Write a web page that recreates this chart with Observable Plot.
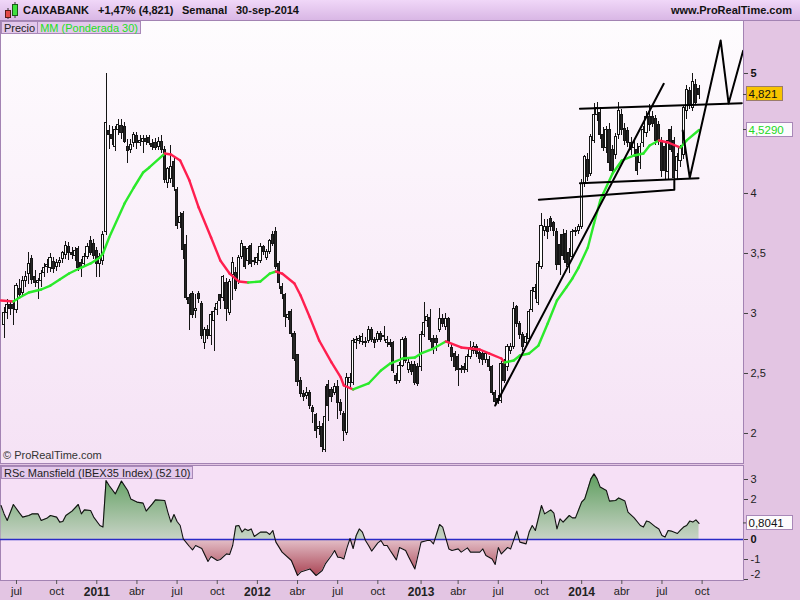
<!DOCTYPE html>
<html>
<head>
<meta charset="utf-8">
<script src="https://cdn.jsdelivr.net/npm/d3@7"></script>
<script src="https://cdn.jsdelivr.net/npm/@observablehq/plot@0.6"></script>
<style>
  html, body { margin:0; padding:0; }
  body { width:800px; height:600px; position:relative; overflow:hidden; background:#e3c5e3;
         font-family:"Liberation Sans", Arial, sans-serif; }
  * { box-sizing:border-box; }
  .abs { position:absolute; }
  #header { left:0; top:0; width:800px; height:21px; background:linear-gradient(#f0d7f8,#d9b7e5);
            border-bottom:1px solid #a383b3; }
  #header span { position:absolute; top:3px; font-size:11px; line-height:14px; font-weight:bold; color:#111; white-space:nowrap; }
  #mainbg { left:0; top:21px; width:744px; height:443px; background:linear-gradient(#fefcfe,#f5e2f5);
            border-left:1px solid #a383b3; border-right:1px solid #a383b3; border-bottom:1px solid #a383b3; }
  #lowbg { left:0; top:465px; width:744px; height:116px; background:#f6e0f6;
           border:1px solid #a383b3; }
  .tag { display:inline-block; height:13px; line-height:12px; font-size:11px; padding:0 2px;
         background:#e3c8eb; border:1px solid #a888b8; color:#222; white-space:nowrap; vertical-align:top; }
  #copy { left:3px; top:449px; font-size:11px; color:#333; }
  #main, #low { left:0; }
  #main { top:21px; }
  #low { top:465px; }
</style>
</head>
<body>
<div id="header" class="abs">
  <svg class="abs" style="left:2px;top:1px" width="18" height="19">
    <line x1="6" y1="7" x2="6" y2="18" stroke="#333"/>
    <rect x="3.5" y="9.5" width="5" height="7" fill="#e34848" stroke="#5a1a1a"/>
    <line x1="13" y1="1" x2="13" y2="17" stroke="#333"/>
    <rect x="10.5" y="3.5" width="5" height="11" fill="#3ee03e" stroke="#1a5a1a"/>
  </svg>
  <span style="left:23px">CAIXABANK</span>
  <span style="left:98px">+1,47% (4,821)</span>
  <span style="left:182px">Semanal</span>
  <span style="left:236px">30-sep-2014</span>
  <span style="right:8px">www.ProRealTime.com</span>
</div>
<div id="mainbg" class="abs"></div>
<div id="lowbg" class="abs"></div>
<div id="main" class="abs"></div>
<div id="low" class="abs"></div>
<div class="abs" style="left:1px;top:21px"><span class="tag">Precio</span><span class="tag" style="color:#22e022;border-left:none">MM (Ponderada 30)</span></div>
<div class="abs" style="left:1px;top:466px"><span class="tag">RSc Mansfield (IBEX35 Index) (52 10)</span></div>
<div id="copy" class="abs">© ProRealTime.com</div>
<script>
// ---------- Weekly OHLC (first bar: week of 2010-06-07) ----------
const firstWeek = "2010-06-07";
const open = [
 2.90,3.00,3.07,3.07,3.03,3.20,3.17,3.27,3.33,3.45,3.30,3.25,3.27,3.34,3.39,3.38,3.43,3.39,3.42,3.45,3.49,3.55,3.50,3.48,3.54,3.42,3.41,3.47,3.60,3.58,3.52,3.41,3.44,3.68,4.52,4.49,4.39,4.53,4.56,4.55,4.39,4.36,4.42,4.48,4.42,4.43,4.45,4.46,
 4.41,4.42,4.39,4.43,4.36,4.09,4.12,4.26,4.03,3.75,3.83,3.57,3.13,3.16,3.02,3.16,3.08,2.75,2.86,2.81,2.94,3.03,3.15,3.13,3.25,3.00,3.32,3.34,3.27,3.47,3.55,3.44,3.56,3.44,3.42,3.44,3.55,3.46,3.51,3.65,3.68,3.41,3.22,3.15,2.96,3.01,2.83,2.65,
 2.44,2.33,2.31,2.34,2.21,2.15,2.04,2.05,1.86,2.40,2.36,2.34,2.39,2.25,2.16,2.00,2.42,2.42,2.75,2.77,2.76,2.76,2.77,2.86,2.78,2.78,2.83,2.80,2.75,2.75,2.75,2.48,2.44,2.56,2.79,2.53,2.57,2.57,2.55,2.55,2.82,2.94,2.96,2.79,2.79,2.86,2.95,2.89,2.95,
 2.71,2.66,2.64,2.54,2.55,2.53,2.64,2.69,2.72,2.67,2.66,2.61,2.61,2.55,2.34,2.29,2.27,2.58,2.55,2.69,2.72,3.05,2.91,2.82,2.75,2.79,3.03,3.18,3.09,3.39,3.69,3.72,3.79,3.75,3.68,3.57,3.65,3.66,3.50,3.47,3.68,3.69,3.72,4.09,4.28,4.16,4.44,4.65,
 4.67,4.49,4.38,4.53,4.36,4.32,4.49,4.65,4.54,4.52,4.42,4.38,4.36,4.25,4.42,4.50,4.64,4.64,4.62,4.57,4.44,4.39,4.18,4.53,4.44,4.19,4.27,4.32,4.69,4.85,4.71,4.90,4.87
];
const high = [
 3.05,3.12,3.10,3.10,3.25,3.28,3.31,3.35,3.51,3.48,3.36,3.29,3.36,3.42,3.45,3.50,3.47,3.45,3.47,3.52,3.60,3.59,3.55,3.55,3.56,3.45,3.50,3.58,3.64,3.62,3.55,3.50,3.68,5.00,4.57,4.56,4.56,4.62,4.62,4.59,4.45,4.45,4.51,4.51,4.48,4.48,4.48,4.48,
 4.45,4.46,4.47,4.48,4.39,4.22,4.40,4.30,4.05,3.84,3.85,3.65,3.16,3.18,3.16,3.18,3.10,2.88,2.90,3.02,3.05,3.10,3.16,3.32,3.29,3.28,3.47,3.38,3.48,3.61,3.56,3.56,3.58,3.47,3.50,3.58,3.57,3.53,3.62,3.68,3.72,3.43,3.25,3.17,3.02,3.03,2.85,2.66,
 2.47,2.36,2.38,2.36,2.23,2.17,2.10,2.08,2.39,2.44,2.38,2.42,2.44,2.28,2.18,2.50,2.50,2.79,2.81,2.82,2.83,2.80,2.89,2.88,2.80,2.85,2.85,2.89,2.81,2.78,2.77,2.50,2.59,2.80,2.81,2.62,2.60,2.60,2.58,2.85,3.09,2.99,3.03,2.82,2.82,3.04,2.99,3.00,2.97,
 2.74,2.68,2.66,2.57,2.58,2.66,2.77,2.76,2.74,2.70,2.68,2.68,2.64,2.57,2.36,2.32,2.60,2.62,2.74,2.75,3.09,3.07,2.93,2.84,2.83,3.03,3.22,3.24,3.43,3.83,3.78,3.78,3.81,3.77,3.71,3.66,3.70,3.69,3.54,3.70,3.72,3.74,4.12,4.32,4.33,4.49,4.75,4.76,
 4.72,4.55,4.56,4.58,4.40,4.50,4.76,4.70,4.58,4.55,4.47,4.45,4.42,4.42,4.56,4.68,4.74,4.68,4.65,4.60,4.47,4.42,4.53,4.56,4.47,4.33,4.40,4.73,4.90,4.88,5.00,4.95,4.90
];
const low = [
 2.79,2.95,2.98,2.90,3.00,3.12,3.14,3.22,3.24,3.24,3.22,3.12,3.22,3.30,3.33,3.34,3.33,3.35,3.38,3.42,3.45,3.44,3.45,3.43,3.35,3.30,3.38,3.45,3.48,3.45,3.30,3.30,3.40,3.65,4.37,4.40,4.35,4.48,4.45,4.42,4.25,4.33,4.38,4.37,4.39,4.33,4.40,4.40,
 4.36,4.36,4.36,4.33,4.08,4.04,4.08,4.02,3.70,3.71,3.45,3.11,2.86,2.96,2.96,3.08,2.78,2.70,2.78,2.73,2.68,2.98,3.03,3.10,2.93,2.98,3.11,3.18,3.24,3.45,3.37,3.40,3.38,3.40,3.40,3.42,3.48,3.44,3.49,3.56,3.37,3.20,3.12,2.88,2.94,2.80,2.60,2.39,
 2.30,2.27,2.28,2.20,2.08,1.96,1.98,1.84,1.84,2.10,2.26,2.32,2.12,2.15,1.93,1.98,2.38,2.40,2.70,2.74,2.73,2.72,2.75,2.76,2.71,2.76,2.76,2.77,2.72,2.72,2.50,2.41,2.42,2.55,2.58,2.50,2.48,2.40,2.39,2.52,2.80,2.88,2.76,2.66,2.68,2.84,2.88,2.86,2.72,
 2.60,2.52,2.39,2.50,2.50,2.51,2.62,2.66,2.63,2.58,2.57,2.58,2.52,2.32,2.23,2.24,2.25,2.42,2.52,2.66,2.70,2.88,2.78,2.68,2.72,2.77,3.01,3.12,3.07,3.37,3.64,3.62,3.68,3.64,3.36,3.32,3.44,3.38,3.33,3.45,3.64,3.66,3.70,4.05,4.10,4.14,4.42,4.60,
 4.45,4.35,4.33,4.18,4.15,4.28,4.45,4.48,4.40,4.38,4.32,4.30,4.15,4.20,4.38,4.47,4.52,4.55,4.40,4.40,4.13,4.12,4.12,4.34,4.10,4.12,4.22,4.28,4.62,4.70,4.68,4.73,4.78
];
const close = [
 3.00,3.07,3.04,3.04,3.23,3.15,3.27,3.30,3.41,3.28,3.25,3.27,3.33,3.38,3.40,3.46,3.37,3.42,3.44,3.50,3.56,3.50,3.49,3.52,3.38,3.38,3.47,3.55,3.50,3.48,3.41,3.47,3.65,4.59,4.49,4.45,4.53,4.57,4.50,4.43,4.35,4.40,4.49,4.42,4.44,4.45,4.43,4.42,
 4.39,4.38,4.43,4.36,4.11,4.20,4.22,4.05,3.73,3.80,3.53,3.13,3.08,2.99,3.04,3.12,2.81,2.86,2.81,2.99,3.01,3.08,3.10,3.30,3.04,3.26,3.42,3.20,3.46,3.58,3.39,3.54,3.41,3.43,3.46,3.55,3.51,3.51,3.60,3.58,3.39,3.25,3.16,2.97,2.99,2.83,2.62,2.43,
 2.33,2.30,2.34,2.23,2.18,2.02,2.05,1.89,2.14,2.23,2.30,2.39,2.25,2.19,2.02,2.46,2.46,2.77,2.78,2.79,2.80,2.75,2.86,2.78,2.75,2.83,2.78,2.81,2.78,2.74,2.52,2.44,2.56,2.78,2.60,2.59,2.51,2.42,2.41,2.82,2.92,2.97,2.78,2.71,2.75,2.95,2.91,2.95,2.76,
 2.64,2.55,2.53,2.53,2.53,2.64,2.71,2.72,2.66,2.62,2.61,2.66,2.55,2.34,2.26,2.27,2.58,2.44,2.72,2.72,3.04,2.91,2.82,2.72,2.80,3.01,3.19,3.21,3.41,3.73,3.72,3.68,3.72,3.69,3.40,3.40,3.48,3.42,3.40,3.68,3.69,3.72,4.08,4.30,4.14,4.47,4.65,4.71,
 4.49,4.38,4.53,4.25,4.19,4.47,4.69,4.53,4.44,4.42,4.36,4.42,4.19,4.39,4.53,4.64,4.57,4.58,4.44,4.44,4.19,4.19,4.44,4.36,4.13,4.30,4.38,4.71,4.86,4.74,4.93,4.75,4.821
];

// ---------- MM Ponderada 30 (week index, value) ----------
const maWeek = [-1,3,5,8,12,15,18,21,25,28,31,32,34,39,42,45,47,52,54,57,60,63,67,70,73,76,79,83,86,88,90,94,96,99,102,106,109,110,113,118,122,125,129,133,135,139,143,148,151,154,157,161,162,165,167,170,173,176,179,182,184,186,189,191,193,194,197,200,204,207,209,212,215,219,221,225];
const maValue = [3.108,3.10,3.133,3.175,3.20,3.233,3.283,3.333,3.383,3.417,3.467,3.50,3.633,3.917,4.05,4.175,4.217,4.333,4.325,4.275,4.108,3.883,3.633,3.442,3.333,3.267,3.258,3.267,3.333,3.35,3.333,3.25,3.15,2.967,2.775,2.592,2.467,2.40,2.367,2.417,2.525,2.583,2.625,2.633,2.667,2.708,2.767,2.717,2.708,2.70,2.667,2.625,2.592,2.608,2.65,2.667,2.733,2.917,3.108,3.217,3.292,3.383,3.55,3.75,3.942,4.00,4.167,4.275,4.317,4.333,4.40,4.442,4.425,4.383,4.442,4.529];

// ---------- RSc Mansfield (IBEX35) ----------
const msWeek = [-1,0,1,3,5,6,8,9,11,12,14,15,17,18,19,20,22,24,25,26,28,29,31,32,33,34,36,38,40,41,43,45,46,48,49,52,53,54,55,56,57,58,60,61,62,64,66,67,69,70,72,73,74,75,76,77,78,79,80,81,83,85,86,87,88,90,93,95,96,99,101,103,104,106,107,108,109,110,111,112,113,114,115,116,117,118,119,121,122,123,124,125,127,128,130,131,133,135,137,138,139,141,142,144,145,147,148,150,151,154,155,156,158,159,160,161,163,164,166,167,169,170,171,172,174,175,177,178,179,180,181,183,184,185,187,188,190,191,192,193,195,196,198,199,201,202,204,206,207,208,209,211,212,213,214,215,216,218,219,220,221,222,223,224,225];
const msValue = [1.70,1.28,0.95,1.75,1.32,1.12,1.20,1.28,1.28,0.95,1.08,1.20,1.12,0.87,0.90,1.20,1.42,1.75,1.28,1.48,1.45,1.12,0.70,0.62,2.95,2.70,2.28,2.92,2.45,2.03,1.87,1.82,1.42,1.78,1.98,1.95,1.37,0.87,1.25,0.90,0.70,0.03,-0.35,-0.52,-0.30,-0.45,-1.10,-0.85,-1.05,-1.00,-0.72,-0.75,-0.30,0.67,0.70,0.37,0.53,0.45,0.53,0.15,0.37,0.37,0.25,0.45,-0.13,-0.63,-1.05,-1.80,-1.63,-1.47,-1.80,-1.55,-1.22,-0.80,-0.55,-0.88,-0.90,-0.97,-0.42,0.05,-0.45,0.20,0.53,0.37,-0.05,-0.30,-0.58,-0.17,-0.05,-0.30,-0.30,-0.55,-1.02,-0.40,-0.55,-0.88,-1.47,-0.13,-0.05,-0.05,-0.22,0.75,0.62,-0.47,-0.55,-0.47,-0.63,-0.42,-0.63,-0.63,-0.47,-0.80,-0.97,-1.25,-0.40,-0.72,-0.40,-0.47,0.42,-0.13,-0.22,0.37,0.70,0.45,1.70,1.28,1.48,1.32,0.53,1.03,0.87,1.20,1.08,1.08,1.87,2.03,3.03,3.28,3.03,2.62,2.45,1.92,1.95,2.08,1.92,1.37,1.08,0.70,0.62,0.92,0.87,0.62,0.53,0.20,0.12,0.45,0.42,0.30,0.47,0.62,0.70,0.92,0.87,0.98,0.8041];

// ---------- Hand-drawn trend lines ----------
const trendDates = [
  ["2013-06-24","2014-07-11"],
  ["2013-10-01","2014-08-04","2014-08-04"],
  ["2014-01-02","2014-09-28"],
  ["2014-01-02","2015-01-04"],
  ["2014-08-23","2014-09-08","2014-11-17","2014-12-05","2015-01-07"]
];
const trendPrices = [
  [2.233,4.914],
  [3.948,4.031,4.108],
  [4.086,4.128],
  [4.706,4.753],
  [4.525,4.131,5.275,4.75,5.19]
];

// ---------- Axis ticks ----------
const priceTicks = [2,2.5,3,3.5,4,5];
const msTicks = [-2,-1,0,2,3];
const xTickDates = ["2010-07-05","2010-10-04","2011-01-03","2011-04-04","2011-07-04","2011-10-03","2012-01-02","2012-04-02","2012-07-02","2012-10-01","2013-01-07","2013-04-01","2013-07-01","2013-10-07","2014-01-06","2014-04-07","2014-07-07","2014-10-06"];
const xTickLabels = ["jul","oct","2011","abr","jul","oct","2012","abr","jul","oct","2013","abr","jul","oct","2014","abr","jul","oct"];

// ---------- Build ----------
const DAY = 864e5;
const t0 = Date.parse(firstWeek + "T00:00:00Z");
const weekDate = i => new Date(t0 + i * 7 * DAY);
const candles = close.map((c, i) => ({date: weekDate(i), open: open[i], high: high[i], low: low[i], close: c}));
const maSegs = maWeek.slice(1).map((w, k) => ({
  d1: weekDate(maWeek[k]), v1: maValue[k], d2: weekDate(w), v2: maValue[k + 1],
  up: maValue[k + 1] >= maValue[k]
}));
const trendPts = trendDates.flatMap((ds, id) => ds.map((d, j) => ({id, date: new Date(d + "T00:00:00Z"), price: trendPrices[id][j]})));
const msData = msWeek.map((w, i) => ({date: weekDate(w), v: msValue[i]}));
const tickMap = new Map(xTickDates.map((d, i) => [Date.parse(d + "T00:00:00Z"), xTickLabels[i]]));
const monthTicks = xTickDates.filter((d, i) => !/^\d{4}$/.test(xTickLabels[i])).map(d => new Date(d + "T00:00:00Z"));
const yearTicks = xTickDates.filter((d, i) => /^\d{4}$/.test(xTickLabels[i])).map(d => new Date(d + "T00:00:00Z"));

const xDomain = [new Date("2010-05-29T18:00:00Z"), new Date("2015-01-07T19:00:00Z")];
const fmt = d => String(d).replace(".", ",");
const baseStyle = {background: "transparent", fontFamily: "'Liberation Sans', Arial, sans-serif", fontSize: "11px", color: "#222", overflow: "visible"};

const mainPlot = Plot.plot({
  width: 800, height: 442, marginLeft: 0, marginRight: 57, marginTop: 0, marginBottom: 0,
  style: baseStyle,
  x: {type: "utc", domain: xDomain, range: [0, 743], axis: null},
  y: {domain: [1.75, 5.4333], range: [442, 0], axis: null},
  marks: [
    Plot.ruleX(candles, {x: "date", y1: "low", y2: "high", stroke: "#151515", strokeWidth: 1, shapeRendering: "crispEdges"}),
    Plot.rect(candles, {
      x1: d => new Date(+d.date - 2.4 * DAY), x2: d => new Date(+d.date + 2.4 * DAY),
      y1: "open", y2: "close",
      fill: d => d.close >= d.open ? "#ffffff" : "#262626",
      stroke: "#151515", strokeWidth: 1, shapeRendering: "crispEdges"
    }),
    Plot.link(maSegs, {x1: "d1", y1: "v1", x2: "d2", y2: "v2", stroke: d => d.up ? "#2bea2b" : "#ff1f4f", strokeWidth: 2.4, strokeLinecap: "round", clip: true}),
    Plot.line(trendPts, {x: "date", y: "price", z: "id", stroke: "#000", strokeWidth: 2, clip: true}),
    Plot.axisY(priceTicks, {anchor: "right", label: null, tickFormat: d => d === 5 ? "" : fmt(d), tickSize: 4, tickPadding: 3, stroke: "#444"}),
    Plot.text([5], {y: d => d, frameAnchor: "right", dx: 7, textAnchor: "start", text: d => fmt(d), fontWeight: "bold", fill: "#111"})
  ]
});
document.getElementById("main").appendChild(mainPlot);

const lowPlot = Plot.plot({
  width: 800, height: 135, marginLeft: 0, marginRight: 57, marginTop: 0, marginBottom: 20,
  style: baseStyle,
  x: {type: "utc", domain: xDomain, range: [0, 743], axis: null},
  y: {domain: [-2.05, 3.7], axis: null},
  marks: [
    Plot.areaY(msData, {x: "date", y1: 0, y2: "v", fill: "url(#msGrad)", clip: true}),
    Plot.ruleY([0], {stroke: "#2a2ac6", strokeWidth: 1.3}),
    Plot.line(msData, {x: "date", y: "v", stroke: "#111", strokeWidth: 1.1, clip: true}),
    Plot.axisY(msTicks, {anchor: "right", label: null, tickFormat: d => (d === 0 || d === -2) ? "" : String(d), tickSize: 4, tickPadding: 3, stroke: "#444"}),
    Plot.text([0], {y: d => d, frameAnchor: "right", dx: 7, textAnchor: "start", text: d => String(d), fontWeight: "bold", fill: "#111"}),
    Plot.text([-2], {y: d => d, frameAnchor: "right", dx: 7, dy: -5, textAnchor: "start", text: d => String(d), fill: "#222"}),
    Plot.axisX(monthTicks, {anchor: "bottom", label: null, tickFormat: d => tickMap.get(+d), tickSize: 4, tickPadding: 3, stroke: "#555", fontSize: 11}),
    Plot.axisX(yearTicks, {anchor: "bottom", label: null, tickFormat: d => tickMap.get(+d), tickSize: 4, tickPadding: 3, stroke: "#555", fontSize: 12, fontWeight: "bold"})
  ]
});
document.getElementById("low").appendChild(lowPlot);

// gradient for the Mansfield area (green above 0, red below)
const yl = lowPlot.scale("y");
const gTop = yl.apply(3.3), gZero = yl.apply(0), gBot = yl.apply(-2);
const off = (gZero - gTop) / (gBot - gTop);
d3.select(lowPlot).insert("defs", ":first-child").append("linearGradient")
  .attr("id", "msGrad").attr("gradientUnits", "userSpaceOnUse")
  .attr("x1", 0).attr("x2", 0).attr("y1", gTop).attr("y2", gBot)
  .selectAll("stop").data([[0, "#5d9e5d"], [off, "#c8d3c6"], [off, "#e4c0c9"], [1, "#a53a4a"]])
  .join("stop").attr("offset", d => d[0]).attr("stop-color", d => d[1]);

// value boxes on the right axis
function valueBox(svg, yScale, v, text, fill, stroke, color, w) {
  const yy = yScale.apply(v);
  const g = d3.select(svg).append("g").attr("text-anchor", "start");
  g.append("line").attr("x1", 743).attr("x2", 747).attr("y1", yy).attr("y2", yy).attr("stroke", "#444");
  g.append("rect").attr("x", 746.5).attr("y", Math.round(yy) - 7.5).attr("width", w).attr("height", 14)
    .attr("fill", fill).attr("stroke", stroke);
  g.append("text").attr("x", 748.5).attr("y", Math.round(yy) + 4).attr("fill", color)
    .attr("text-anchor", "start").attr("font-size", 11.5).text(text);
}
const ym = mainPlot.scale("y");
const lastClose = close[close.length - 1];
const lastMA = maValue[maValue.length - 1];
const lastMs = msValue[msValue.length - 1];
valueBox(mainPlot, ym, lastClose, lastClose.toFixed(3).replace(".", ","), "#f8c400", "#9a7c6a", "#111", 36);
valueBox(mainPlot, ym, lastMA, lastMA.toFixed(4).replace(".", ","), "#fdfbfd", "#a888b8", "#22d822", 46);
valueBox(lowPlot, yl, lastMs, lastMs.toFixed(4).replace(".", ","), "#fdfbfd", "#a888b8", "#111", 46);
</script>
</body>
</html>
